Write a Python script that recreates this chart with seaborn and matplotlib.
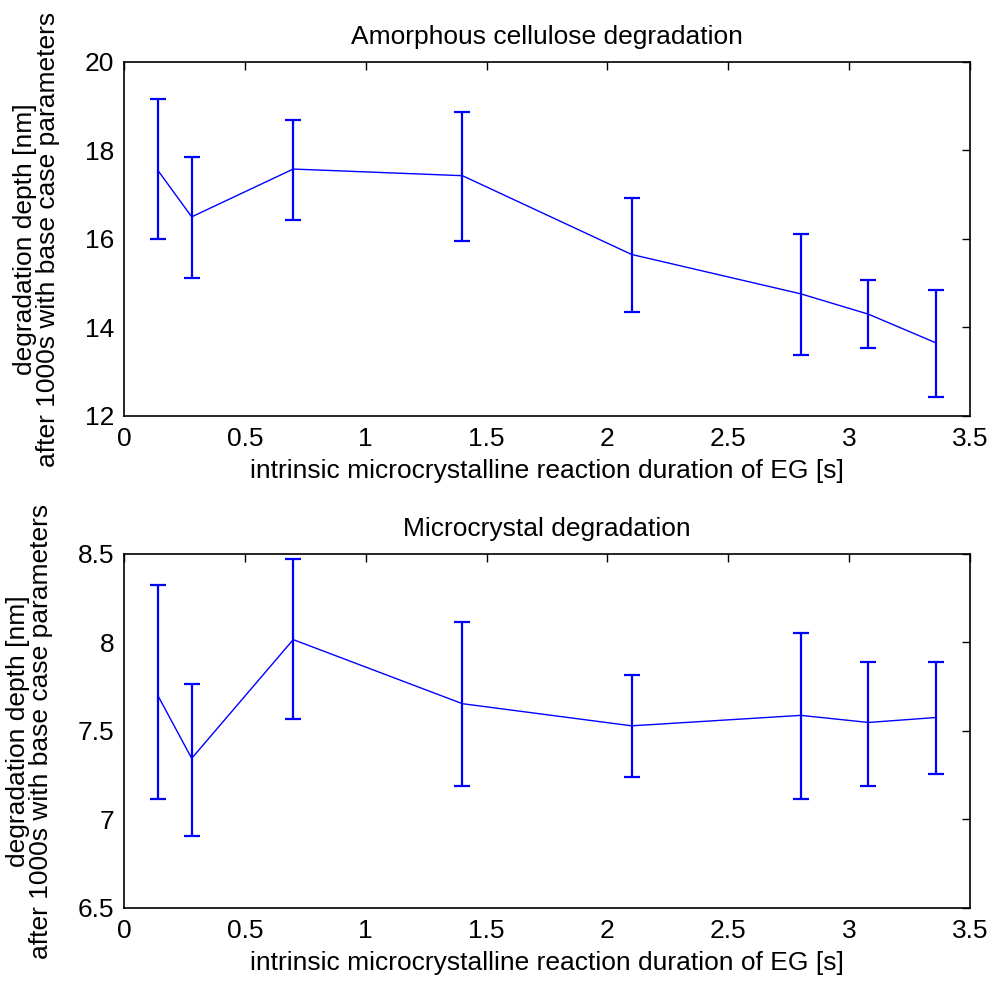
import numpy as np
import pandas as pd
import matplotlib
matplotlib.use("Agg")
import matplotlib.pyplot as plt
import seaborn as sns

# ---- data ----
duration = [0.14, 0.28, 0.70, 1.40, 2.10, 2.80, 3.08, 3.36]

amorph_mean = [17.55, 16.50, 17.58, 17.43, 15.65, 14.76, 14.30, 13.65]
amorph_upper = [19.16, 17.85, 18.69, 18.86, 16.92, 16.11, 15.07, 14.84]
amorph_lower = [16.00, 15.11, 16.42, 15.95, 14.34, 13.38, 13.53, 12.42]

micro_mean = [7.70, 7.345, 8.016, 7.654, 7.529, 7.588, 7.548, 7.576]
micro_upper = [8.327, 7.766, 8.47, 8.118, 7.815, 8.056, 7.892, 7.892]
micro_lower = [7.116, 6.905, 7.567, 7.19, 7.24, 7.116, 7.19, 7.258]

titles = ["Amorphous cellulose degradation", "Microcrystal degradation"]
xlabel = "intrinsic microcrystalline reaction duration of EG [s]"
ylabel = "degradation depth [nm]\nafter 1000s with base case parameters"
x_ticks = [0, 0.5, 1, 1.5, 2, 2.5, 3, 3.5]
x_ticklabels = ["0", "0.5", "1", "1.5", "2", "2.5", "3", "3.5"]
top_yticks = [12, 14, 16, 18, 20]
bot_yticks = [6.5, 7, 7.5, 8, 8.5]
bot_yticklabels = ["6.5", "7", "7.5", "8", "8.5"]

sns.set_style("white")
plt.rcParams["font.family"] = ["Liberation Sans", "DejaVu Sans"]
plt.rcParams["font.size"] = 19

fig = plt.figure(figsize=(9.89, 9.82), dpi=100)
ax1 = fig.add_axes([0.1254, 0.5764, 0.8554, 0.3605])
ax2 = fig.add_axes([0.1254, 0.0754, 0.8554, 0.3605])

blue = "#0000ff"
FS = 19

def draw(ax, mean, upper, lower, title, ylim, yticks, yticklabels):
    df = pd.DataFrame({"x": duration, "y": mean})
    sns.lineplot(data=df, x="x", y="y", ax=ax, color=blue, linewidth=1.0)
    m = np.array(mean)
    yerr = np.vstack([m - np.array(lower), np.array(upper) - m])
    ax.errorbar(duration, mean, yerr=yerr, fmt="none", ecolor=blue,
                elinewidth=1.6, capsize=6, capthick=1.6)
    ax.set_xlim(0, 3.5)
    ax.set_ylim(*ylim)
    ax.set_xticks(x_ticks)
    ax.set_xticklabels(x_ticklabels)
    ax.set_yticks(yticks)
    ax.set_yticklabels(yticklabels)
    ax.set_title(title, fontsize=FS, pad=13, color="black")
    ax.set_xlabel(xlabel, fontsize=FS, labelpad=6, color="black")
    ax.set_ylabel(ylabel, fontsize=FS, labelpad=18, color="black",
                  linespacing=0.95)
    ax.tick_params(direction="in", length=6, width=1, top=True, right=True,
                   labelsize=FS, color="black", labelcolor="black")
    ax.tick_params(axis="x", pad=8)
    ax.tick_params(axis="y", pad=7)
    for s in ax.spines.values():
        s.set_visible(True)
        s.set_color("black")
        s.set_linewidth(1.2)

draw(ax1, amorph_mean, amorph_upper, amorph_lower, titles[0], (12, 20),
     top_yticks, [str(v) for v in top_yticks])
draw(ax2, micro_mean, micro_upper, micro_lower, titles[1], (6.5, 8.5),
     bot_yticks, bot_yticklabels)

fig.savefig("out.png", dpi=100, facecolor="white")
